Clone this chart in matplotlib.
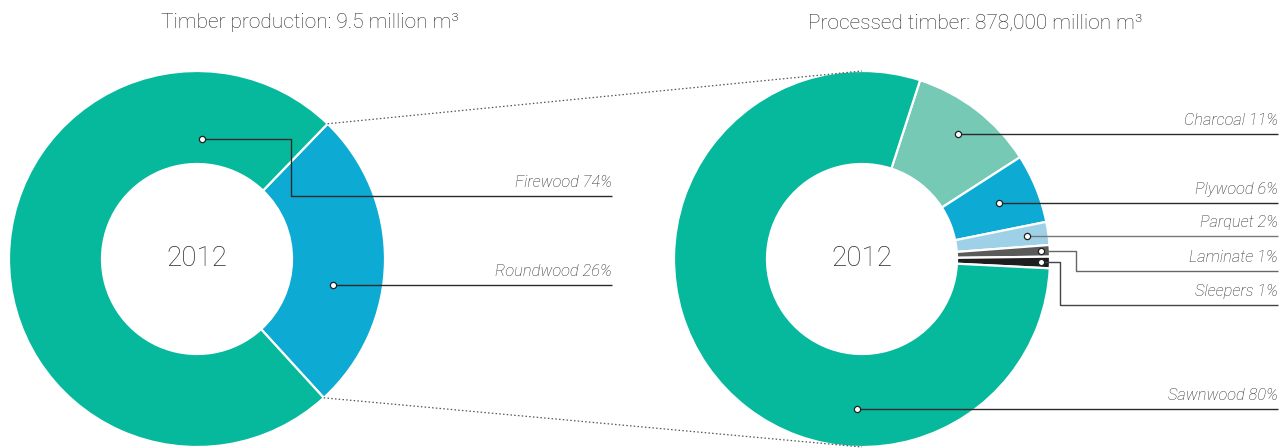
import numpy as np
import matplotlib
matplotlib.use("Agg")
import matplotlib.pyplot as plt

# ---- data -------------------------------------------------------------
prod_labels = ["Roundwood", "Firewood"]
prod_values = [26, 74]
prod_colors = ["#0DAAD4", "#06B89C"]

proc_labels = ["Charcoal", "Plywood", "Parquet", "Laminate", "Sleepers", "Sawnwood"]
proc_values = [11, 6, 2, 1, 1, 80]
proc_colors = ["#76C9B5", "#0DAAD4", "#9ED1E8", "#5A5A5A", "#1E1E1E", "#06B89C"]

left_title = "Timber production: 9.5 million m\u00b3"
right_title = "Processed timber: 878,000 million m\u00b3"
year_label = "2012"

# ---- layout (pixel canvas, y up) --------------------------------------
W, H = 1288, 448
fig = plt.figure(figsize=(W / 100, H / 100), dpi=100)
ax = fig.add_axes([0, 0, 1, 1])

R, RING = 188, 93
left_c = (197, 189)
right_c = (862, 189)
LINE = "#2a2a2a"
TITLE_FONT = dict(family="Roboto", weight="light", color="#2a2a2a")
LABEL_FONT = dict(family="Roboto", weight="light", style="italic", color="#2a2a2a")

def donut(center, values, colors, start):
    wedges, _ = ax.pie(values, colors=colors, center=center, radius=R,
                       startangle=start, counterclock=False,
                       wedgeprops=dict(width=RING, edgecolor="white", linewidth=1.6))
    return wedges

lw = donut(left_c, prod_values, prod_colors, 46)
rw = donut(right_c, proc_values, proc_colors, 72)

ax.set_xlim(0, W)
ax.set_ylim(0, H)
ax.set_aspect("equal")
ax.axis("off")

def polar(center, ang, r):
    a = np.deg2rad(ang)
    return center[0] + r * np.cos(a), center[1] + r * np.sin(a)

def mid(w):
    return (w.theta1 + w.theta2) / 2

# dotted connectors from the Roundwood wedge to the processed donut
rd = lw[0]
for ang, ty in ((rd.theta2, right_c[1] + R), (rd.theta1, right_c[1] - R)):
    x0, y0 = polar(left_c, ang, R)
    ax.plot([x0, right_c[0]], [y0, ty], ls=(0, (1.2, 1.8)), color="#555555", lw=0.9, zorder=1)

# centre labels and titles
for c in (left_c, right_c):
    ax.text(c[0], c[1], year_label, ha="center", va="center", fontsize=20, **TITLE_FONT)
ax.text(310, H - 22, left_title, ha="center", va="center", fontsize=15, **TITLE_FONT)
ax.text(975, H - 23, right_title, ha="center", va="center", fontsize=15, **TITLE_FONT)

def callout(start, path, xend, text, color=LINE):
    xs = [start[0]] + [p[0] for p in path] + [xend]
    ys = [start[1]] + [p[1] for p in path] + [path[-1][1] if path else start[1]]
    ax.plot(xs, ys, color=color, lw=1.0, zorder=3, solid_capstyle="butt")
    ax.plot(*start, marker="o", ms=4.5, mfc="white", mec="#222222", mew=0.9, zorder=4)
    ax.text(xend, ys[-1] + 6, text, ha="right", va="bottom", fontsize=11.8, **LABEL_FONT)

# left donut labels
fw_start = polar(left_c, 87.6, 120)
callout(fw_start, [(291, fw_start[1]), (291, H - 196)], 612, "Firewood 74%")
rw_start = polar(left_c, mid(lw[0]) - 10, 138)
callout(rw_start, [], 612, "Roundwood 26%")

# right donut labels: (fixed angle or None for wedge middle, radius)
anchor = {"Charcoal": (None, 158), "Plywood": (None, 148), "Parquet": (None, 167),
          "Laminate": (None, 179), "Sleepers": (None, 179), "Sawnwood": (-92, 150)}
pcts = dict(zip(proc_labels, proc_values))
for w, name in zip(rw, proc_labels):
    ang, r = anchor[name]
    s = polar(right_c, mid(w) if ang is None else ang, r)
    txt = f"{name} {pcts[name]}%"
    if name == "Laminate":
        callout(s, [(1076, s[1]), (1076, H - 271)], 1278, txt, color="#666666")
    elif name == "Sleepers":
        callout(s, [(1060, s[1]), (1060, H - 305)], 1278, txt, color="#444444")
    elif name == "Parquet":
        callout(s, [], 1278, txt, color="#777777")
    else:
        callout(s, [], 1278, txt)

fig.savefig("out.png", dpi=100)
